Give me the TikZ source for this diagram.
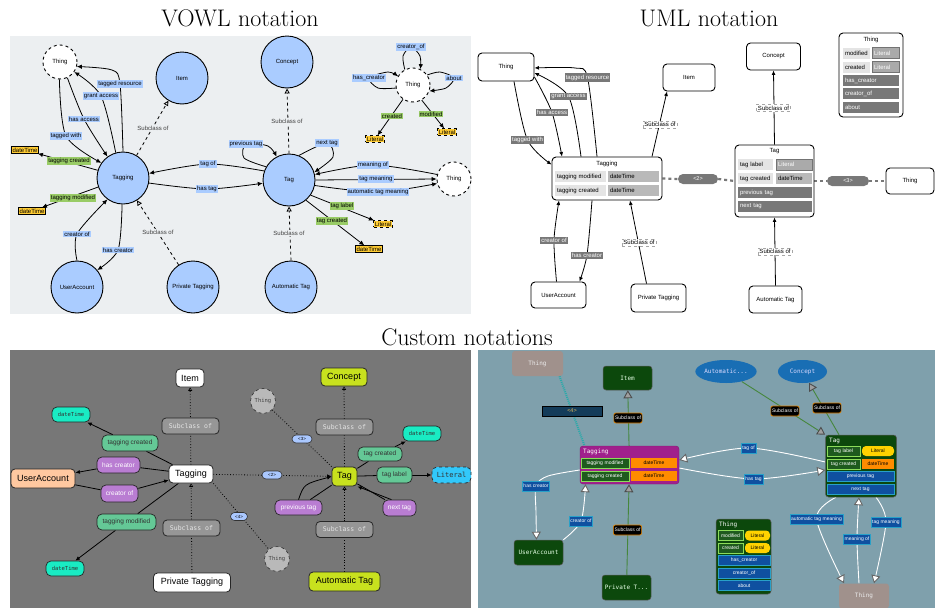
\documentclass[tikz,border=0pt]{standalone}
\usepackage{fontspec}
\newfontfamily\lsans{Liberation Sans}
\newfontfamily\dmono{DejaVu Sans Mono}
\usetikzlibrary{arrows.meta,shapes.geometric}
\pgfdeclarelayer{bg}\pgfdeclarelayer{edges}
\pgfsetlayers{bg,edges,main}
\newcommand\fsz[1]{\fontsize{#1}{#1}\selectfont}
\definecolor{vbg}{RGB}{236,239,241}
\definecolor{vblue}{RGB}{170,204,255}
\definecolor{vgreen}{RGB}{153,204,102}
\definecolor{vyellow}{RGB}{255,204,51}
\definecolor{ugrey}{RGB}{120,120,120}
\definecolor{ulight}{RGB}{228,228,228}
\definecolor{umid}{RGB}{185,185,185}
\definecolor{ulit}{RGB}{170,170,170}
\definecolor{c1bg}{RGB}{119,119,119}
\definecolor{c1sub}{RGB}{150,150,150}
\definecolor{c1green}{RGB}{100,200,150}
\definecolor{c1purple}{RGB}{185,125,210}
\definecolor{c1cyan}{RGB}{25,235,195}
\definecolor{c1lit}{RGB}{50,200,250}
\definecolor{c1peach}{RGB}{255,200,160}
\definecolor{c1lime}{RGB}{200,225,30}
\definecolor{c1pill}{RGB}{170,200,255}
\definecolor{c1thing}{RGB}{185,185,185}
\definecolor{c2bg}{RGB}{127,160,172}
\definecolor{c2green}{RGB}{12,72,12}
\definecolor{c2edge}{RGB}{70,135,60}
\definecolor{c2mag}{RGB}{160,32,140}
\definecolor{c2orange}{RGB}{255,140,0}
\definecolor{c2yellow}{RGB}{255,210,0}
\definecolor{c2blue}{RGB}{15,80,160}
\definecolor{c2cyan}{RGB}{40,160,200}
\definecolor{c2thing}{RGB}{160,145,140}
\definecolor{c2ell}{RGB}{25,110,180}
\definecolor{c2navy}{RGB}{20,60,90}
\definecolor{c2sub}{RGB}{225,130,0}
\definecolor{c2teal}{RGB}{40,170,170}
\definecolor{c2cellb}{RGB}{140,220,90}
\definecolor{c2cellg}{RGB}{30,90,30}
\definecolor{c2navytext}{RGB}{225,185,90}
\tikzset{
 ttl/.style={font=\fsz{24},inner sep=0,anchor=base},
 vc/.style={circle,draw,line width=0.9pt,fill=vblue,minimum size=52pt,inner sep=0,font=\lsans\fsz{6}},
 vth/.style={circle,draw,dashed,line width=0.9pt,fill=white,minimum size=34pt,inner sep=0,font=\lsans\fsz{6}},
 vl/.style={fill=vblue,inner sep=1pt,font=\lsans\fsz{6}},
 vg/.style={fill=vgreen,inner sep=1pt,font=\lsans\fsz{6}},
 vlit/.style={fill=vyellow,draw,dashed,line width=0.8pt,inner sep=1pt,font=\lsans\fsz{6}},
 vdt/.style={fill=vyellow,draw,line width=0.8pt,inner sep=1pt,font=\lsans\fsz{6}},
 vs/.style={fill=vbg,inner sep=1pt,font=\lsans\fsz{6},text=black!75},
 va/.style={line width=0.8pt,-{Latex[length=5pt,width=4.5pt]}},
 vsub/.style={line width=0.8pt,dashed,-{Triangle[open,length=5pt,width=5pt]}},
 ub/.style={draw,line width=0.9pt,rounded corners=4pt,fill=white,font=\lsans\fsz{6},inner sep=0},
 ul/.style={fill=ugrey,text=white,inner sep=1.3pt,font=\lsans\fsz{6}},
 us/.style={draw=black!35,dashed,fill=white,inner sep=1.3pt,font=\lsans\fsz{6}},
 ua/.style={line width=0.8pt,-{Latex[length=4.5pt,width=4pt]}},
 ucell/.style={font=\lsans\fsz{6},inner xsep=2pt,inner ysep=0,minimum height=11pt,align=left},
 ucl/.style={ucell,fill=ulight},
 ucm/.style={ucell,fill=umid},
 ucit/.style={ucell,fill=ulit,draw=black!55,text=white},
 ucd/.style={ucell,fill=ugrey,text=white},
 upill/.style={rounded corners=5pt,fill=ugrey,text=white,font=\lsans\fsz{5.5},minimum width=40pt,minimum height=10pt,inner sep=0},
 udash/.style={ugrey,line width=2.2pt,dash pattern=on 3pt off 3pt},
 cn/.style={draw=black!85,line width=0.8pt,rounded corners=4pt,inner sep=0,font=\lsans\fsz{9}},
 csub/.style={draw=black!85,line width=0.8pt,rounded corners=4pt,fill=c1sub,text=white!90!black,font=\dmono\fsz{6.5},minimum width=57pt,minimum height=16pt,inner sep=0},
 cg/.style={draw=black!85,line width=0.7pt,rounded corners=5pt,fill=c1green,font=\lsans\fsz{6.5},inner sep=0,text=black!80},
 cp/.style={draw=black!85,line width=0.7pt,rounded corners=5pt,fill=c1purple,font=\lsans\fsz{6.5},inner sep=0,text=white},
 ccy/.style={draw=black!85,line width=0.7pt,rounded corners=5pt,fill=c1cyan,font=\dmono\fsz{5.5},inner sep=0,text=black!80},
 cpill/.style={draw=black!80,line width=0.6pt,rounded corners=4pt,fill=c1pill,font=\lsans\fsz{4.5},minimum width=20pt,minimum height=8pt,inner sep=0},
 cth/.style={circle,draw=black!80,dashed,line width=0.6pt,fill=c1thing,minimum size=25pt,inner sep=0,font=\dmono\fsz{5.5},text=black!75},
 cline/.style={line width=0.8pt,black},
 carr/.style={line width=0.8pt,-{Latex[length=4.5pt,width=4pt]}},
 cdot/.style={line width=0.8pt,dotted},
 csubarr/.style={line width=0.8pt,dotted,-{Triangle[length=3.5pt,width=4pt,fill=white]}},
 dg/.style={fill=c2green,draw=gray!70!black,line width=0.5pt,rounded corners=3pt,text=green!10!white,font=\dmono\fsz{6},inner sep=0},
 dth/.style={fill=c2thing,rounded corners=3pt,text=white!85!gray,font=\dmono\fsz{6},inner sep=0},
 dl/.style={fill=c2blue,draw=c2cyan,line width=0.6pt,text=white,font=\lsans\fsz{5},inner sep=1.2pt,minimum height=10pt},
 ds/.style={fill=black,draw=c2sub,line width=0.7pt,rounded corners=2pt,text=white,font=\lsans\fsz{5},inner sep=1.2pt,minimum height=10pt},
 dcell/.style={font=\lsans\fsz{5},inner xsep=2pt,inner ysep=0,minimum height=10pt,align=center},
 dcg/.style={dcell,fill=c2cellg,draw=c2cellb,line width=0.6pt,text=white},
 dco/.style={dcell,fill=c2orange,text=black},
 dcy/.style={dcell,fill=c2yellow,rounded corners=4pt,text=black},
 dcb/.style={dcell,fill=c2blue,draw=c2cyan,line width=0.6pt,text=white},
 de/.style={ellipse,fill=c2ell,minimum width=48pt,minimum height=23pt,inner sep=0,text=white!85!blue,font=\dmono\fsz{6}},
 dw/.style={white,line width=0.9pt,-{Triangle[length=8pt,width=9pt,fill=white,color=black!60]}},
 dsubarr/.style={c2edge,line width=0.9pt,-{Triangle[length=8pt,width=9pt,fill=gray!75,color=gray!60!black]}},
}
\begin{document}
\begin{tikzpicture}[x=1pt,y=-1pt]
\useasboundingbox (0,0) rectangle (935,608);
\begin{pgfonlayer}{bg}
\fill[white] (0,0) rectangle (935,608);
\fill[vbg] (10,36) rectangle (471,314);
\fill[c1bg] (10,350) rectangle (471,608);
\fill[c2bg] (478,350) rectangle (935,608);
\end{pgfonlayer}
% titles
\node[ttl] (t1) at (240,26) {VOWL notation};
\node[ttl] (t2) at (709,26) {UML notation};
\node[ttl] (t3) at (467,345) {Custom notations};
% ================= VOWL
\node[vth] (vThingA) at (60,62) {Thing};
\node[vc] (vItem) at (182,78) {Item};
\node[vc] (vTagging) at (123,178) {Tagging};
\node[vc] (vUA) at (77,287) {UserAccount};
\node[vc] (vPT) at (193,287) {Private Tagging};
\node[vc] (vConcept) at (287,62) {Concept};
\node[vc] (vTag) at (289,180) {Tag};
\node[vc] (vAT) at (291,287) {Automatic Tag};
\node[vth] (vThingB) at (413,85) {Thing};
\node[vth] (vThingC) at (454,179) {Thing};
\node[vlit] (vLit1) at (375,139) {Literal};
\node[vlit] (vLit2) at (447,132) {Literal};
\node[vlit] (vLit3) at (383,224) {Literal};
\node[vdt] (vDt1) at (25,150) {dateTime};
\node[vdt] (vDt2) at (32,211) {dateTime};
\node[vdt] (vDt3) at (369,249) {dateTime};
\node[vl] (vlTR) at (120,84) {tagged resource};
\node[vl] (vlGA) at (101,96) {grant access};
\node[vl] (vlHA) at (84,119) {has access};
\node[vl] (vlTW) at (66,136) {tagged with};
\node[vg] (vlTC) at (69,161) {tagging created};
\node[vg] (vlTM) at (73,198) {tagging modified};
\node[vl] (vlCO) at (77,234) {creator of};
\node[vl] (vlHC) at (118,250) {has creator};
\node[vs] (vlS1) at (153,128) {Subclass of};
\node[vs] (vlS2) at (158,232) {Subclass of};
\node[vl] (vlTO) at (208,164) {tag of};
\node[vl] (vlHT) at (207,189) {has tag};
\node[vl] (vlPT) at (246,144) {previous tag};
\node[vl] (vlNT) at (327,143) {next tag};
\node[vs] (vlS3) at (287,121) {Subclass of};
\node[vs] (vlS4) at (289,233) {Subclass of};
\node[vl] (vlMO) at (373,165) {meaning of};
\node[vl] (vlTMe) at (376,179) {tag meaning};
\node[vl] (vlATM) at (378,192) {automatic tag meaning};
\node[vg] (vlTL) at (342,206) {tag label};
\node[vg] (vlTgC) at (332,221) {tag created};
\node[vl] (vlCrO) at (411,47) {creator\_of};
\node[vl] (vlHCr) at (369,78) {has\_creator};
\node[vl] (vlAb) at (454,78) {about};
\node[vg] (vlCr) at (392,116) {created};
\node[vg] (vlMod) at (431,114) {modified};
% ================= UML
\node[ub,minimum width=56pt,minimum height=28pt] (uThing) at (506,67) {Thing};
\node[ub,minimum width=52pt,minimum height=27pt] (uItem) at (689,77.5) {Item};
\node[ub,minimum width=110pt,minimum height=43pt] (uTagging) at (607,178.5) {};
\node[font=\lsans\fsz{6},inner sep=0] (uTaggingT) at (607,164) {Tagging};
\node[ucl,text width=47pt] (uTg1a) at (580.5,176.5) {tagging modified};
\node[ucm,text width=47pt] (uTg1b) at (633.5,176.5) {dateTime};
\node[ucl,text width=47pt] (uTg2a) at (580.5,190.5) {tagging created};
\node[ucm,text width=47pt] (uTg2b) at (633.5,190.5) {dateTime};
\node[ub,minimum width=79pt,minimum height=72pt] (uTag) at (774.5,181) {};
\node[font=\lsans\fsz{6},inner sep=0] (uTagT) at (774.5,151.5) {Tag};
\node[ucl,text width=31pt] (uTa1) at (755.5,164.5) {tag label};
\node[ucit,text width=32pt] (uTa2) at (794,164.5) {Literal};
\node[ucl,text width=31pt] (uTa3) at (755.5,178.5) {tag created};
\node[ucm,text width=32pt] (uTa4) at (794,178.5) {dateTime};
\node[ucd,text width=70pt] (uTa5) at (775,192.5) {previous tag};
\node[ucd,text width=70pt] (uTa6) at (775,206) {next tag};
\node[ub,minimum width=64pt,minimum height=84pt] (uThingC) at (871,75) {};
\node[font=\lsans\fsz{6},inner sep=0] (uThingCT) at (871,39.5) {Thing};
\node[ucl,text width=23pt] (uTh1) at (856.5,53) {modified};
\node[ucit,text width=23pt] (uTh2) at (885.5,53) {Literal};
\node[ucl,text width=23pt] (uTh3) at (856.5,67) {created};
\node[ucit,text width=23pt] (uTh4) at (885.5,67) {Literal};
\node[ucd,text width=52pt] (uTh5) at (871,80.5) {has\_creator};
\node[ucd,text width=52pt] (uTh6) at (871,93.5) {creator\_of};
\node[ucd,text width=52pt] (uTh7) at (871,107) {about};
\node[ub,minimum width=54pt,minimum height=27pt] (uConcept) at (773.5,56.5) {Concept};
\node[ub,minimum width=48pt,minimum height=26pt] (uThingR) at (910,181) {Thing};
\node[ub,minimum width=55pt,minimum height=26pt] (uUA) at (558.5,295) {UserAccount};
\node[ub,minimum width=55pt,minimum height=28pt] (uPT) at (658.5,298) {Private Tagging};
\node[ub,minimum width=53pt,minimum height=27pt] (uAT) at (775.5,299.5) {Automatic Tag};
\node[upill] (u2) at (698,179) {<2>};
\node[upill,minimum width=42pt] (u3) at (848,181) {<3>};
\node[ul] (ulTW) at (527.5,140) {tagged with};
\node[ul] (ulHA) at (552,112.5) {has access};
\node[ul] (ulGA) at (568.5,96.5) {grant access};
\node[ul] (ulTR) at (587.5,77.5) {tagged resource};
\node[ul] (ulCO) at (554,240) {creator of};
\node[ul] (ulHC) at (587,255) {has creator};
\node[us] (usI) at (660,124.5) {Subclass of};
\node[us] (usP) at (639,242.5) {Subclass of};
\node[us] (usC) at (773.5,108) {Subclass of};
\node[us] (usA) at (775,251.5) {Subclass of};
% ================= Custom 1
\node[cn,fill=white,minimum width=28pt,minimum height=18pt] (cItem) at (190,378) {Item};
\node[csub] (cS1) at (190.5,426) {Subclass of};
\node[cn,fill=white,minimum width=44pt,minimum height=18pt] (cTagging) at (191,474) {Tagging};
\node[csub] (cS2) at (191.5,528) {Subclass of};
\node[cn,fill=white,minimum width=77pt,minimum height=19pt] (cPT) at (192,582.5) {Private Tagging};
\node[ccy,minimum width=38pt,minimum height=15pt] (cDt1) at (71,414.5) {dateTime};
\node[cg,minimum width=56pt,minimum height=16pt] (cTC) at (130,443) {tagging created};
\node[cp,minimum width=43pt,minimum height=16pt] (cHC) at (118.5,465) {has creator};
\node[cn,fill=c1peach,minimum width=64pt,minimum height=19pt] (cUA) at (43,478.5) {UserAccount};
\node[cp,minimum width=37pt,minimum height=17pt] (cCO) at (119.5,493.5) {creator of};
\node[cg,minimum width=59pt,minimum height=16pt] (cTM) at (126.5,522) {tagging modified};
\node[ccy,minimum width=38pt,minimum height=15pt] (cDt2) at (65,568.5) {dateTime};
\node[cpill,minimum width=17pt] (c4) at (239,516.5) {<4>};
\node[cn,fill=c1lime,minimum width=46pt,minimum height=18pt] (cConcept) at (344,377) {Concept};
\node[cth] (cTh1) at (263,401) {Thing};
\node[cpill] (c3) at (302,439) {<3>};
\node[csub] (cS3) at (344.5,427) {Subclass of};
\node[cn,fill=c1lime,minimum width=25pt,minimum height=19pt] (cTag) at (344.5,476.5) {Tag};
\node[cpill] (c2) at (272,475) {<2>};
\node[cg,minimum width=44pt,minimum height=14pt] (cTgC) at (380,454) {tag created};
\node[ccy,minimum width=38pt,minimum height=15pt] (cDt3) at (422,433.5) {dateTime};
\node[cg,minimum width=35pt,minimum height=16pt] (cTL) at (394.5,475) {tag label};
\node[ccy,dashed,fill=c1lit,font=\dmono\fsz{7},minimum width=39pt,minimum height=16pt] (cLit) at (451.5,475) {Literal};
\node[cp,minimum width=47pt,minimum height=15pt] (cPrev) at (298.5,507.5) {previous tag};
\node[cp,minimum width=33pt,minimum height=16pt] (cNext) at (399.5,508) {next tag};
\node[csub] (cS4) at (344.5,529.5) {Subclass of};
\node[cn,fill=c1lime,minimum width=71pt,minimum height=19pt] (cAT) at (344.5,581.5) {Automatic Tag};
\node[cth] (cTh2) at (277,559) {Thing};
% ================= Custom 2
\node[dth,minimum width=51pt,minimum height=25pt] (dTh1) at (537.5,363.5) {Thing};
\node[fill=c2navy,draw=black,line width=0.6pt,text=c2navytext,font=\lsans\fsz{5.5},minimum width=60pt,minimum height=10pt,inner sep=0] (d4) at (572,411) {<4>};
\node[dg,minimum width=49pt,minimum height=24pt] (dItem) at (627.5,378) {Item};
\node[ds] (dS1) at (628,418) {Subclass of};
\node[rounded corners=3pt,fill=c2mag,draw=c2mag!80!black,minimum width=99pt,minimum height=38pt,inner sep=0] (dTagging) at (629.5,465) {};
\node[anchor=west,text=white,font=\dmono\fsz{6},inner sep=0] (dTaggingT) at (583,451.5) {Tagging};
\node[dcg,text width=44pt] (dTg1a) at (605,463) {tagging modified};
\node[dco,text width=42pt] (dTg1b) at (654,463) {dateTime};
\node[dcg,text width=44pt] (dTg2a) at (605,476) {tagging created};
\node[dco,text width=42pt] (dTg2b) at (654,476) {dateTime};
\node[ds] (dS2) at (627.5,530) {Subclass of};
\node[dg,minimum width=49pt,minimum height=25pt] (dPT) at (626.5,587.5) {Private T...};
\node[dg,minimum width=49pt,minimum height=25pt] (dUA) at (538.5,552.5) {UserAccount};
\node[dl] (dHC) at (536,486) {has creator};
\node[dl] (dCO) at (581,521) {creator of};
\node[de] (dAuto) at (726,371.5) {Automatic...};
\node[de,minimum width=49pt] (dConcept) at (802.5,371.5) {Concept};
\node[ds] (dS3) at (785,411) {Subclass of};
\node[ds] (dS4) at (827,408) {Subclass of};
\node[dg,minimum width=71pt,minimum height=62pt] (dTag) at (861,466) {};
\node[anchor=west,text=white,font=\dmono\fsz{6},inner sep=0] (dTagT) at (829,440.5) {Tag};
\node[dcg,text width=29pt] (dTa1) at (843.5,451) {tag label};
\node[dcy,text width=28pt] (dTa2) at (878,451) {Literal};
\node[dcg,text width=29pt] (dTa3) at (843.5,464) {tag created};
\node[dco,text width=28pt] (dTa4) at (878,464) {dateTime};
\node[dcb,text width=63pt] (dTa5) at (860.5,476.5) {previous tag};
\node[dcb,text width=63pt] (dTa6) at (860.5,489) {next tag};
\node[dl] (dTO) at (748.5,448) {tag of};
\node[dl] (dHT) at (753.5,479) {has tag};
\node[dl] (dATM) at (816.5,519) {automatic tag meaning};
\node[dl] (dTM) at (886,522) {tag meaning};
\node[dl] (dMO) at (857,539) {meaning of};
\node[dth,minimum width=50pt,minimum height=25pt] (dTh2) at (864,596) {Thing};
\node[dg,minimum width=55pt,minimum height=75pt] (dThC) at (743.5,556.5) {};
\node[anchor=west,text=white,font=\dmono\fsz{6},inner sep=0] (dThCT) at (719,524.5) {Thing};
\node[dcg,text width=21pt] (dTh1a) at (730.5,535.5) {modified};
\node[dcy,text width=21pt] (dTh1b) at (757.5,535.5) {Literal};
\node[dcg,text width=21pt] (dTh2a) at (730.5,548) {created};
\node[dcy,text width=21pt] (dTh2b) at (757.5,548) {Literal};
\node[dcb,text width=48pt] (dTh3) at (744,560.5) {has\_creator};
\node[dcb,text width=48pt] (dTh4) at (744,573) {creator\_of};
\node[dcb,text width=48pt] (dTh5) at (744,585.5) {about};
% ================= edges
\begin{pgfonlayer}{edges}
% VOWL
\draw[va] plot[smooth] coordinates {(vThingA.268) (vlTW.center) (vTagging.145)};
\draw[va] plot[smooth] coordinates {(vThingA.295) (vlHA.center) (vTagging.126)};
\draw[va] plot[smooth] coordinates {(vTagging.106) (vlGA.center) (vThingA.325)};
\draw[va] plot[smooth] coordinates {(vTagging.90) (vlTR.center) (112,70) (vThingA.345)};
\draw[va] (vTagging.163) -- (vDt1);
\draw[va] (vTagging.200) -- (vDt2);
\draw[va] plot[smooth] coordinates {(vUA.90) (vlCO.center) (vTagging.234)};
\draw[va] plot[smooth] coordinates {(vTagging.268) (vlHC.center) (vUA.40)};
\draw[vsub] (vTagging.59) -- (vItem.239);
\draw[vsub] (vPT.123) -- (vTagging.302);
\draw[va] plot[smooth] coordinates {(vTag.160) (vlTO.center) (vTagging.10)};
\draw[va] plot[smooth] coordinates {(vTagging.349) (vlHT.center) (vTag.187)};
\draw[va] plot[smooth] coordinates {(vTag.150) (244,158) (vlPT.center) (268,146) (vTag.118)};
\draw[va] plot[smooth] coordinates {(vTag.68) (vlNT.center) (333,157) (vTag.17)};
\draw[vsub] (vTag.90) -- (vConcept.270);
\draw[vsub] (vAT.90) -- (vTag.270);
\draw[va] plot[smooth] coordinates {(vThingC.165) (vlMO.center) (vTag.12)};
\draw[va] (vTag.0) -- (vThingC.180);
\draw[va] plot[smooth] coordinates {(vTag.-12) (vlATM.center) (vThingC.195)};
\draw[va] (vTag.-35) -- (vLit3);
\draw[va] (vTag.-50) -- (vDt3);
\draw[va] plot[smooth] coordinates {(vThingB.118) (403,56) (vlCrO.center) (420,56) (vThingB.65)};
\draw[va] plot[smooth] coordinates {(vThingB.190) (378,88) (vlHCr.center) (388,72) (vThingB.150)};
\draw[va] plot[smooth] coordinates {(vThingB.35) (440,72) (vlAb.center) (446,88) (vThingB.-20)};
\draw[va] (vThingB.235) -- (vLit1);
\draw[va] (vThingB.-60) -- (vLit2);
% UML
\draw[udash] (uTagging.east) -- (u2.west);
\draw[udash] (u2.east) -- (uTag.west);
\draw[udash] (uTag.east) -- (u3.west);
\draw[udash] (u3.east) -- (uThingR.west);
\draw[ua] plot[smooth] coordinates {([xshift=8pt]uThing.south) (ulTW.center) ([yshift=-8pt]uTagging.north west)};
\draw[ua] plot[smooth] coordinates {([yshift=-10pt]uThing.east) (ulHA.center) ([xshift=-45pt]uTagging.north)};
\draw[ua] plot[smooth] coordinates {([xshift=-26pt]uTagging.north) (ulGA.center) ([yshift=-6pt]uThing.east)};
\draw[ua] plot[smooth] coordinates {([xshift=-10pt]uTagging.north) (ulTR.center) (575,68) ([yshift=-1pt]uThing.east)};
\draw[ua] plot[smooth] coordinates {([xshift=-2pt]uUA.north) (ulCO.center) ([xshift=-48pt]uTagging.south)};
\draw[ua] plot[smooth] coordinates {([xshift=-15pt]uTagging.south) (ulHC.center) ([xshift=21pt]uUA.north)};
\draw[ua] ([xshift=45pt]uTagging.north) -- ([xshift=-22pt]uItem.south);
\draw[ua] ([xshift=-12pt]uPT.north) -- ([xshift=23pt]uTagging.south);
\draw[ua] (uTag.north) -- (uConcept.south);
\draw[ua] (uAT.north) -- (uTag.south);
% Custom 1
\draw[cline] (cTagging) -- (cTC); \draw[carr] (cTC) -- (cDt1);
\draw[cline] (cTagging) -- (cHC); \draw[carr] (cHC) -- (cUA);
\draw[cline] (cUA) -- (cCO); \draw[carr] (cCO) -- (cTagging);
\draw[cline] (cTagging) -- (cTM); \draw[carr] (cTM) -- (cDt2);
\draw[csubarr] (cTagging) -- (cItem);
\draw[csubarr] (cPT) -- (cTagging);
\draw[csubarr] (cTag) -- (cConcept);
\draw[csubarr] (cAT) -- (cTag);
\draw[cdot,-{Latex[length=4.5pt,width=4pt]}] (cTagging) -- (cTag);
\draw[cdot] (cTagging.south east) -- (cTh2);
\draw[cdot] (cTag.north west) -- (cTh1);
\draw[cline] (cTag) -- (cTgC); \draw[carr] (cTgC) -- (cDt3);
\draw[cline] (cTag) -- (cTL); \draw[carr] (cTL) -- (cLit);
\draw[cline] (cTag) -- (cPrev); \draw[carr] (cPrev.north) .. controls (304,484) .. (cTag.west);
\draw[cline] (cTag) -- (cNext); \draw[carr] ([xshift=-8pt]cNext.north) -- (cTag.south east);
% Custom 2
\draw[c2teal,line width=2pt,dash pattern=on 1pt off 1pt] ([xshift=22pt]dTh1.south) -- ([xshift=-45pt]dTagging.north);
\draw[dsubarr] (dTagging) -- (dItem);
\draw[dsubarr] (dPT) -- (dTagging);
\draw[dsubarr] (dAuto) -- (dTag.north west);
\draw[dsubarr] ([xshift=-22pt]dTag.north) -- (dConcept);
\draw[dw] plot[smooth] coordinates {([yshift=4pt]dTag.west) (dTO.center) ([yshift=5pt]dTagging.east)};
\draw[dw] plot[smooth] coordinates {([yshift=-3pt]dTagging.east) (dHT.center) ([yshift=-4pt]dTag.west)};
\draw[dw] plot[smooth] coordinates {([yshift=-5pt]dTagging.west) (548,476) (dHC.center) (536,512) ([xshift=-2pt]dUA.north)};
\draw[dw] plot[smooth] coordinates {(dUA.north east) (dCO.center) ([xshift=-44pt]dTagging.south)};
\draw[dw] plot[smooth] coordinates {([xshift=-25pt]dTag.south) (dATM.center) ([xshift=-20pt]dTh2.north)};
\draw[dw] plot[smooth] coordinates {([xshift=15pt]dTag.south) (dTM.center) ([xshift=10pt]dTh2.north)};
\draw[dw] plot[smooth] coordinates {([xshift=-5pt]dTh2.north) (dMO.center) ([xshift=-2pt]dTag.south)};
\end{pgfonlayer}
\end{tikzpicture}
\end{document}
